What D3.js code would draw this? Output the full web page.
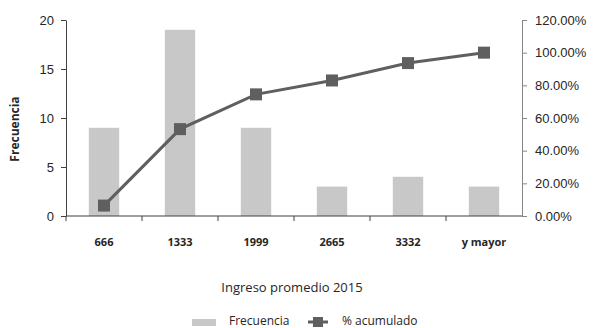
<!DOCTYPE html>
<html>
<head>
<meta charset="utf-8">
<script src="https://cdn.jsdelivr.net/npm/d3@7"></script>
<style>
  html, body { margin: 0; padding: 0; background: #fff; }
  svg { display: block; font-family: "Open Sans", sans-serif; }
</style>
</head>
<body>
<svg id="chart" width="593" height="328"></svg>
<script>
// Income class upper bounds (histogram bins)
const categories = ["666", "1333", "1999", "2665", "3332", "y mayor"];
// Frequency per bin
const frecuencia = [9, 19, 9, 3, 4, 3];
// Cumulative percentage per bin
const acumulado = [6.38, 53.19, 74.47, 82.98, 93.62, 100.0];
// Axis ticks
const leftTicks = [0, 5, 10, 15, 20];
const rightTicks = [0, 20, 40, 60, 80, 100, 120];

const svg = d3.select("#chart");
const m = { left: 66, right: 522, top: 20, bottom: 216 };

const x = d3.scaleBand().domain(categories).range([m.left, m.right]).paddingInner(0.6).paddingOuter(0.3);
const xTick = d3.scaleBand().domain(categories).range([m.left, m.right]);
const yL = d3.scaleLinear().domain([0, 20]).range([m.bottom, m.top]);
const yR = d3.scaleLinear().domain([0, 120]).range([m.bottom, m.top]);

const barColor = "#c8c8c8";
const lineColor = "#5f5f5f";
const textColor = "#262626";
const fontSize = 13;

// Bars
svg.append("g").selectAll("rect").data(frecuencia).join("rect")
  .attr("x", (d, i) => x(categories[i]))
  .attr("y", d => yL(d))
  .attr("width", x.bandwidth())
  .attr("height", d => yL(0) - yL(d))
  .attr("fill", barColor);

// Left axis
const gl = svg.append("g").attr("transform", `translate(${m.left},0)`)
  .call(d3.axisLeft(yL).tickValues(leftTicks).tickSize(5).tickPadding(7).tickSizeOuter(0));
gl.select(".domain").attr("stroke", "#404040");
gl.selectAll(".tick line").attr("stroke", "#404040");
gl.selectAll("text").attr("font-size", fontSize).attr("fill", textColor).attr("font-family", null);

// Right axis
const gr = svg.append("g").attr("transform", `translate(${m.right},0)`)
  .call(d3.axisRight(yR).tickValues(rightTicks).tickSize(5).tickPadding(8).tickSizeOuter(0)
    .tickFormat(d => d.toFixed(2) + "%"));
gr.select(".domain").attr("stroke", "#868686");
gr.selectAll(".tick line").attr("stroke", "#868686");
gr.selectAll("text").attr("font-size", fontSize).attr("fill", textColor).attr("font-family", null);

// Bottom axis: ticks at band boundaries
const gb = svg.append("g").attr("transform", `translate(0,${m.bottom})`);
gb.append("line").attr("x1", m.left).attr("x2", m.right).attr("stroke", "#404040");
const bounds = categories.map(c => xTick(c));
gb.selectAll("line.tk").data(bounds).join("line").attr("class", "tk")
  .attr("x1", d => d).attr("x2", d => d).attr("y1", 0).attr("y2", 5)
  .attr("stroke", "#404040");
gb.selectAll("text").data(categories).join("text")
  .attr("x", c => xTick(c) + xTick.bandwidth() / 2)
  .attr("y", 30)
  .attr("text-anchor", "middle")
  .attr("font-size", 11)
  .attr("font-weight", "bold")
  .attr("fill", textColor)
  .text(c => c);

// Cumulative line
const line = d3.line().x((d, i) => xTick(categories[i]) + xTick.bandwidth() / 2).y(d => yR(d));
svg.append("path").datum(acumulado).attr("d", line)
  .attr("fill", "none").attr("stroke", lineColor).attr("stroke-width", 3);
svg.append("g").selectAll("rect").data(acumulado).join("rect")
  .attr("x", (d, i) => xTick(categories[i]) + xTick.bandwidth() / 2 - 6)
  .attr("y", d => yR(d) - 6)
  .attr("width", 12).attr("height", 12)
  .attr("fill", lineColor);

// Axis titles
svg.append("text")
  .attr("transform", "translate(19,129) rotate(-90)")
  .attr("text-anchor", "middle")
  .attr("font-size", 12).attr("font-weight", "bold").attr("fill", textColor)
  .text("Frecuencia");
svg.append("text")
  .attr("x", 292).attr("y", 292)
  .attr("text-anchor", "middle")
  .attr("font-size", 13).attr("fill", textColor)
  .text("Ingreso promedio 2015");

// Legend
const lg = svg.append("g");
lg.append("rect").attr("x", 192).attr("y", 319).attr("width", 24).attr("height", 7).attr("fill", barColor);
lg.append("text").attr("x", 229).attr("y", 325).attr("font-size", 12).attr("fill", textColor).text("Frecuencia");
lg.append("line").attr("x1", 308).attr("x2", 328).attr("y1", 322).attr("y2", 322)
  .attr("stroke", lineColor).attr("stroke-width", 3);
lg.append("rect").attr("x", 313).attr("y", 317).attr("width", 10).attr("height", 10).attr("fill", lineColor);
lg.append("text").attr("x", 342).attr("y", 325).attr("font-size", 12).attr("fill", textColor).text("% acumulado");
</script>
</body>
</html>
